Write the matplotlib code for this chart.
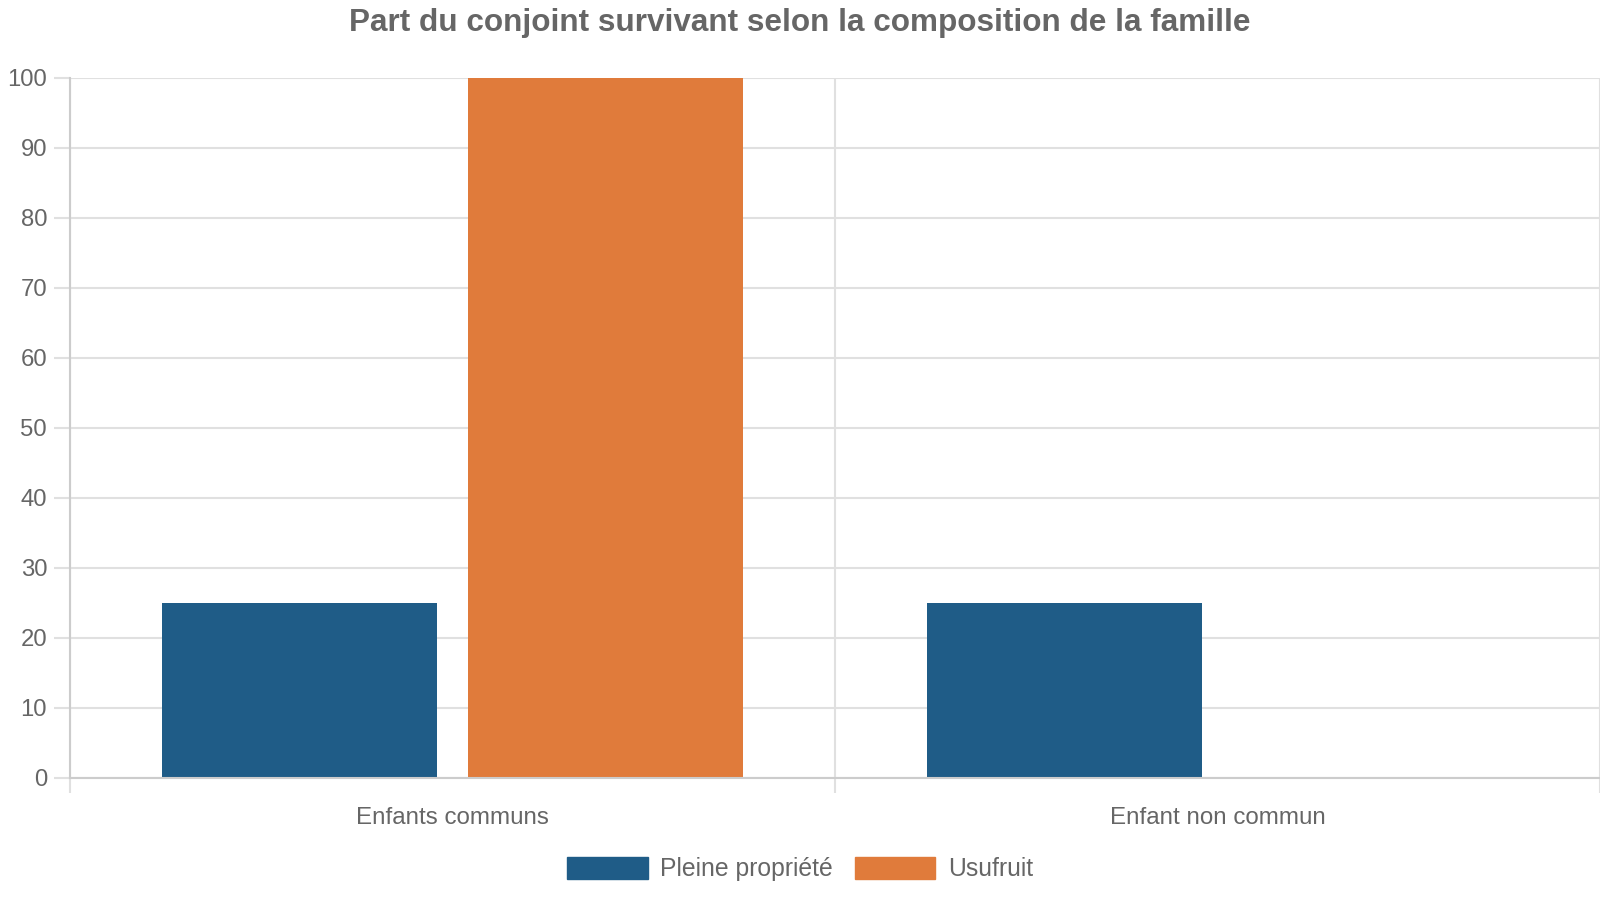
import matplotlib.pyplot as plt
from matplotlib.patches import Rectangle

plt.rcParams['font.family'] = ['Liberation Sans', 'DejaVu Sans']

categories = ['Enfants communs', 'Enfant non commun']
series_names = ['Pleine propriété', 'Usufruit']
pleine_propriete = [25, 25]
usufruit = [100, 0]
y_ticks = [0, 10, 20, 30, 40, 50, 60, 70, 80, 90, 100]

blue = '#1F5C87'
orange = '#E07B3B'
text_gray = '#666666'
grid_gray = '#E0E0E0'

fig = plt.figure(figsize=(16, 9), dpi=100)
ax = fig.add_axes([0.04375, 0.1356, 0.95625, 0.7778])

x = list(range(len(categories)))
w = 0.36
ax.bar([i - 0.2 for i in x], pleine_propriete, width=w, color=blue, zorder=3)
ax.bar([i + 0.2 for i in x], usufruit, width=w, color=orange, zorder=3)

ax.set_xlim(-0.5, len(categories) - 0.5)
ax.set_ylim(0, 100)
ax.set_yticks(y_ticks)
ax.set_xticks(x)
ax.set_xticklabels(categories)
ax.set_xticks([i - 0.5 for i in range(len(categories) + 1)], minor=True)

ax.grid(axis='y', which='major', color=grid_gray, linewidth=1.5, zorder=0)
ax.grid(axis='x', which='minor', color=grid_gray, linewidth=1.5, zorder=0)

ax.tick_params(axis='y', length=11.5, width=1.5, color=grid_gray, pad=5,
               labelsize=17.2, labelcolor=text_gray)
ax.tick_params(axis='x', which='major', length=0, pad=21,
               labelsize=17.4, labelcolor=text_gray)
ax.tick_params(axis='x', which='minor', length=11, width=1.5, color=grid_gray)

for side in ['top', 'right']:
    ax.spines[side].set_visible(False)
ax.spines['left'].set_color('#CCCCCC')
ax.spines['left'].set_linewidth(1.5)
ax.spines['bottom'].set_color('#CCCCCC')
ax.spines['bottom'].set_linewidth(1.5)
ax.spines['bottom'].set_zorder(4)

fig.text(0.5, 1 - 23 / 900, 'Part du conjoint survivant selon la composition de la famille',
         ha='center', va='center', fontsize=22.7, fontweight='bold', color=text_gray)

handles = [Rectangle((0, 0), 1, 1, color=blue), Rectangle((0, 0), 1, 1, color=orange)]
fig.legend(handles, series_names, loc='center', bbox_to_anchor=(0.5, 1 - 869 / 900),
           ncol=2, frameon=False, fontsize=17.8, labelcolor=text_gray,
           handlelength=3.25, handleheight=1.0, handletextpad=0.5, columnspacing=0.9)

fig.savefig('out.png', dpi=100)
